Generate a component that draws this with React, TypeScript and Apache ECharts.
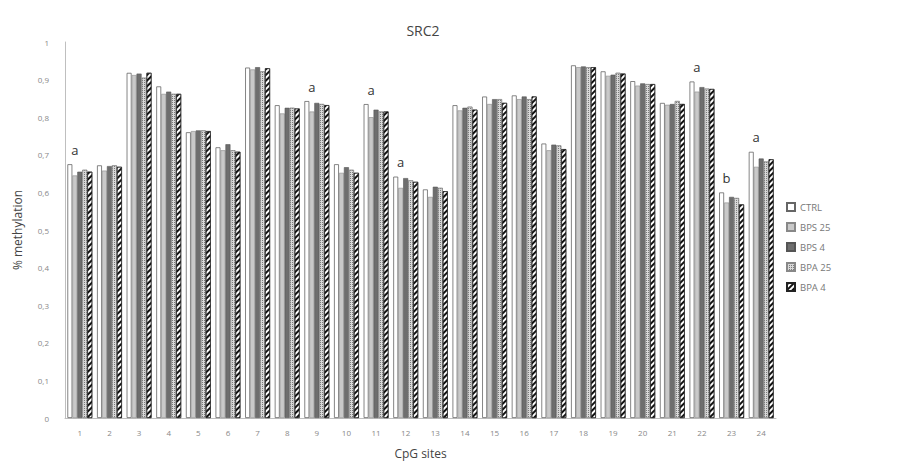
import React, { useEffect, useRef } from "react";
import * as echarts from "echarts";

const categories = ["1","2","3","4","5","6","7","8","9","10","11","12","13","14","15","16","17","18","19","20","21","22","23","24"];
const seriesNames = ["CTRL", "BPS 25", "BPS 4", "BPA 25", "BPA 4"];
const ctrl = [0.675,0.672,0.918,0.882,0.76,0.72,0.932,0.832,0.843,0.675,0.835,0.642,0.608,0.832,0.855,0.858,0.73,0.938,0.922,0.896,0.838,0.895,0.6,0.708];
const bps25 = [0.645,0.658,0.912,0.862,0.763,0.712,0.927,0.81,0.815,0.652,0.8,0.612,0.588,0.818,0.835,0.848,0.712,0.933,0.91,0.884,0.833,0.868,0.573,0.668];
const bps4 = [0.655,0.67,0.916,0.868,0.765,0.728,0.933,0.825,0.838,0.667,0.82,0.638,0.615,0.825,0.848,0.855,0.727,0.935,0.913,0.89,0.835,0.88,0.588,0.69];
const bpa25 = [0.66,0.672,0.905,0.862,0.765,0.712,0.922,0.825,0.835,0.66,0.815,0.632,0.612,0.828,0.848,0.848,0.725,0.933,0.918,0.888,0.843,0.876,0.585,0.682];
const bpa4 = [0.655,0.668,0.918,0.862,0.763,0.708,0.93,0.823,0.832,0.652,0.815,0.628,0.603,0.82,0.838,0.855,0.715,0.933,0.916,0.888,0.835,0.875,0.568,0.688];
const significance = ["a","","","","","","","","a","","a","a","","","","","","","","","","a","b","a"];

export default function App() {
  const ref = useRef<HTMLDivElement>(null);
  useEffect(() => {
    document.body.style.margin = "0";
    if (!ref.current) return;
    const chart = echarts.init(ref.current, undefined, { renderer: "svg" });
    const font = "Open Sans";
    const ctrlData = ctrl.map((v, i) =>
      significance[i]
        ? { value: v, label: { show: true, position: "top", formatter: significance[i], offset: [5, -3], fontSize: 13, color: "#333", fontFamily: font } }
        : v
    );
    const mk = (name: string, data: any[], itemStyle: any) => ({
      name,
      type: "bar",
      data,
      barGap: "0%",
      barCategoryGap: "16%",
      itemStyle,
    });
    chart.setOption({
      animation: false,
      title: {
        text: "SRC2",
        left: 418,
        top: 18,
        textAlign: "center",
        textStyle: { fontFamily: font, fontSize: 14, fontWeight: "normal", color: "#444" },
      },
      legend: {
        orient: "vertical",
        left: 781,
        top: 197,
        icon: "rect",
        itemWidth: 8,
        itemHeight: 8,
        itemGap: 10,
        textStyle: { fontFamily: font, fontSize: 9.5, color: "#777" },
        data: seriesNames,
      },
      grid: { left: 65, right: 128, top: 42, bottom: 45 },
      xAxis: {
        type: "category",
        data: categories,
        name: "CpG sites",
        nameLocation: "middle",
        nameGap: 29,
        nameTextStyle: { fontFamily: font, fontSize: 12, color: "#444" },
        axisLine: { lineStyle: { color: "#bfbfbf", width: 1 } },
        axisTick: { show: false },
        axisLabel: { fontFamily: font, fontSize: 8, color: "#888", margin: 10 },
      },
      yAxis: {
        type: "value",
        min: 0,
        max: 1,
        interval: 0.1,
        name: "% methylation",
        nameLocation: "middle",
        nameGap: 42,
        nameTextStyle: { fontFamily: font, fontSize: 12, color: "#444" },
        axisLine: { show: true, lineStyle: { color: "#bfbfbf", width: 1 } },
        axisTick: { show: false },
        splitLine: { show: false },
        axisLabel: {
          fontFamily: font,
          fontSize: 8,
          color: "#888",
          margin: 16,
          formatter: (v: number) => String(Math.round(v * 10) / 10).replace(".", ","),
        },
      },
      series: [
        mk("CTRL", ctrlData, { color: "#ffffff", borderColor: "#666", borderWidth: 0.8 }),
        mk("BPS 25", bps25, { color: "#c9c9c9", borderColor: "#888", borderWidth: 0.6 }),
        mk("BPS 4", bps4, { color: "#6e6e6e", borderColor: "#555", borderWidth: 0.6 }),
        mk("BPA 25", bpa25, {
          color: "#d9d9d9",
          borderColor: "#888",
          borderWidth: 0.6,
          decal: { symbol: "rect", symbolSize: 1, dashArrayX: [1, 1], dashArrayY: [1, 1], rotation: 0, color: "#7a7a7a" },
        }),
        mk("BPA 4", bpa4, {
          color: "#ffffff",
          borderColor: "#222",
          borderWidth: 0.6,
          decal: { symbol: "rect", symbolSize: 1, dashArrayX: [1, 0], dashArrayY: [2, 2], rotation: -Math.PI / 4, color: "#111" },
        }),
      ],
    });
    return () => chart.dispose();
  }, []);
  return <div ref={ref} style={{ width: 904, height: 464 }} />;
}
